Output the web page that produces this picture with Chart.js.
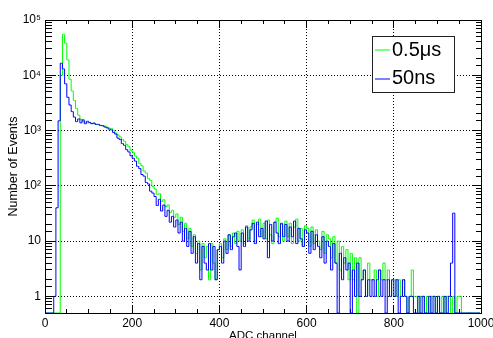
<!DOCTYPE html>
<html>
<head>
<meta charset="utf-8">
<script src="https://cdn.jsdelivr.net/npm/chart.js@4/dist/chart.umd.min.js"></script>
<style>
  html, body { margin: 0; padding: 0; background: #fff; overflow: hidden; }
</style>
</head>
<body>
<canvas id="c" width="493" height="338"></canvas>
<script>
// ---- data: counts per 5-channel bin, starting at ADC 0 ----
const binWidth = 5;
const seriesNames = ['0.5\u03bcs', '50ns'];

const green = [
  0, 0, 0, 0, 0, 0, 0, 10000, 55000, 38000,
  19000, 8500, 5200, 3500, 2500, 1900, 1600, 1480, 1420, 1380,
  1370, 1350, 1330, 1300, 1290, 1250, 1230, 1200, 1150, 1110,
  1080, 990, 900, 830, 770, 690, 640, 560, 510, 440,
  405, 345, 315, 255, 230, 185, 170, 135, 125, 98,
  88, 70, 72, 52, 56, 42, 45, 33, 36, 27,
  31, 20, 27, 15, 21, 11, 17, 8, 13, 6,
  10, 3, 9, 5, 8, 2, 9, 4, 2, 7,
  9, 5, 11, 7, 13, 8, 14, 9, 15, 10,
  16, 9, 19, 11, 18, 24, 10, 20, 25, 12,
  21, 11, 24, 13, 9, 22, 26, 12, 20, 10,
  23, 12, 21, 9, 18, 25, 10, 17, 8, 19,
  17, 8, 18, 9, 16, 10, 7, 15, 6, 13,
  11, 5, 12, 4, 10, 3, 8, 4, 7, 2,
  6, 2, 5, 0, 5, 2, 3, 1, 4, 2,
  2, 3, 1, 3, 2, 4, 2, 3, 1, 2,
  2, 1, 2, 1, 2, 1, 0, 1, 3, 1,
  1, 0, 1, 1, 0, 1, 0, 1, 1, 0,
  1, 0, 1, 0, 1, 1, 0, 1, 0, 1,
  1, 0, 0, 0, 0, 0, 0, 0, 0, 0
];

const blue = [
  0, 0, 0, 0, 1, 40, 1500, 16500, 13000, 7000,
  4000, 2900, 2200, 1750, 1450, 1620, 1380, 1560, 1330, 1470,
  1400, 1330, 1370, 1290, 1290, 1230, 1220, 1160, 1120, 1060,
  1030, 920, 860, 730, 690, 580, 540, 450, 410, 350,
  315, 280, 225, 205, 160, 150, 115, 108, 80, 74,
  64, 44, 57, 35, 45, 28, 36, 22, 28, 18,
  24, 14, 22, 10, 17, 8, 15, 6, 12, 4,
  9, 2, 8, 4, 3, 9, 3, 8, 2, 7,
  8, 4, 10, 6, 13, 7, 12, 14, 8, 3,
  14, 8, 18, 10, 16, 21, 9, 22, 12, 17,
  11, 23, 5, 20, 10, 22, 14, 9, 21, 12,
  20, 10, 18, 12, 23, 9, 17, 11, 8, 16,
  14, 6, 15, 7, 13, 8, 5, 12, 4, 10,
  8, 3, 9, 4, 0, 6, 2, 5, 3, 4,
  0, 3, 1, 4, 1, 2, 3, 1, 2, 1,
  2, 1, 2, 3, 1, 2, 0, 2, 1, 2,
  1, 2, 0, 1, 2, 1, 0, 1, 1, 0,
  0, 1, 0, 1, 0, 0, 1, 0, 1, 0,
  1, 0, 0, 1, 0, 1, 4, 32, 0, 0,
  0, 0, 0, 0, 0, 0, 0, 0, 0, 0
];

const xMin = 0, xMax = 1000;
const xMajorStep = 200, xMinorStep = 50;
const yMin = 0.5, yMax = 100000;
const yTickValues = [1, 10, 100, 1000, 10000, 100000];
const yTickText = ['1', '10', '10\u00b2', '10\u00b3', '10\u2074', '10\u2075'];

// ---- helpers ----
const FONT = "'Liberation Sans', Arial, sans-serif";
const ink = '#000';
const clear = 'rgba(0,0,0,0)';

// empty bins sit on the lower frame edge, as in the original histogram
const toPoints = counts => counts.map((v, i) => ({x: i * binWidth + binWidth / 2, y: v > 0 ? v : yMin}));
const isDecade = v => Math.abs(Math.log10(v) - Math.round(Math.log10(v))) < 1e-9;
const keepDecades = s => { s.ticks = s.ticks.filter(t => isDecade(t.value)); };
const fixSize = (w, h) => s => {
  if (w !== null) s.width = w;
  if (h !== null) s.height = h;
  s.paddingLeft = s.paddingRight = s.paddingTop = s.paddingBottom = 0;
};

function yLabel(v) {
  const i = yTickValues.findIndex(t => Math.abs(Math.log10(t) - Math.log10(v)) < 1e-6);
  return i < 0 ? '' : yTickText[i];
}

// tick-only frame axis (ticks point into the plot)
function frameAxis(type, position, len, step, decadesOnly, weight) {
  const a = {
    type, position, weight,
    min: type === 'linear' ? xMin : yMin,
    max: type === 'linear' ? xMax : yMax,
    ticks: {display: false, autoSkip: false},
    grid: {drawOnChartArea: false, tickLength: -len, tickColor: ink, tickWidth: 1},
    border: {display: false},
    afterFit: (position === 'left' || position === 'right') ? fixSize(0, null) : fixSize(null, 0)
  };
  if (step) a.ticks.stepSize = step;
  if (decadesOnly) a.afterBuildTicks = keepDecades;
  return a;
}

// ---- legend box drawn inside the frame ----
const legendBox = {
  id: 'legendBox',
  afterDraw(chart) {
    const ctx = chart.ctx;
    const bx = 372.5, by = 36.5, bw = 82, bh = 56;
    ctx.save();
    ctx.fillStyle = '#fff';
    ctx.fillRect(bx, by, bw, bh);
    ctx.strokeStyle = '#222';
    ctx.lineWidth = 1;
    ctx.strokeRect(bx, by, bw, bh);
    ctx.font = '20px ' + FONT;
    ctx.textBaseline = 'middle';
    ctx.textAlign = 'left';
    const rows = [50, 78.5];
    chart.data.datasets.forEach((ds, i) => {
      ctx.strokeStyle = ds.borderColor;
      ctx.beginPath();
      ctx.moveTo(375, Math.round(rows[i]));
      ctx.lineTo(390, Math.round(rows[i]));
      ctx.stroke();
      ctx.fillStyle = '#000';
      ctx.fillText(ds.label, 392, rows[i]);
    });
    ctx.restore();
  }
};

new Chart(document.getElementById('c'), {
  type: 'line',
  data: {
    datasets: [
      {label: seriesNames[0], data: toPoints(green), borderColor: '#00ff00', order: 1},
      {label: seriesNames[1], data: toPoints(blue), borderColor: '#0000ff', order: 0}
    ].map(d => Object.assign(d, {
      borderWidth: 1, pointRadius: 0, stepped: 'middle', fill: false, tension: 0,
      xAxisID: 'x', yAxisID: 'y'
    }))
  },
  options: {
    responsive: false,
    devicePixelRatio: 1,
    animation: false,
    layout: {padding: {left: 0, top: 20, right: 12, bottom: 0}},
    plugins: {legend: {display: false}, tooltip: {enabled: false}},
    scales: {
      x: {
        type: 'linear', position: 'bottom', min: xMin, max: xMax, weight: 1,
        ticks: {stepSize: xMajorStep, autoSkip: false, maxRotation: 0, padding: 11, color: ink,
                font: {family: FONT, size: 12}, callback: v => String(v)},
        grid: {color: c => (c.tick && c.tick.value > xMin && c.tick.value < xMax) ? ink : clear,
               tickLength: -8, tickColor: ink, tickWidth: 1, lineWidth: 1},
        border: {color: ink, width: 1, dash: [1, 2]},
        title: {display: true, text: 'ADC channel', color: ink, font: {family: FONT, size: 11.5},
                padding: {top: 0, bottom: -5}},
        afterFit: fixSize(null, 25)
      },
      xMinor: frameAxis('linear', 'bottom', 4, xMinorStep, false, 0),
      xTop: Object.assign(frameAxis('linear', 'top', 8, xMajorStep, false, 1), {border: {color: ink, width: 1}}),
      xTopMinor: frameAxis('linear', 'top', 4, xMinorStep, false, 0),
      y: {
        type: 'logarithmic', position: 'left', min: yMin, max: yMax, weight: 1,
        afterBuildTicks: keepDecades,
        ticks: {autoSkip: false, padding: 14, color: ink, font: {family: FONT, size: 12}, callback: yLabel},
        grid: {color: c => (c.tick && c.tick.value < yMax) ? ink : clear,
               tickLength: -10, tickColor: ink, tickWidth: 1, lineWidth: 1},
        border: {color: ink, width: 1, dash: [1, 2]},
        title: {display: true, text: 'Number of Events', color: ink, font: {family: FONT, size: 12.5},
                padding: {top: 6.5, bottom: 0}},
        afterFit: fixSize(45, null)
      },
      yMinor: frameAxis('logarithmic', 'left', 7, null, false, 0),
      yRight: Object.assign(frameAxis('logarithmic', 'right', 9, null, true, 1), {border: {color: ink, width: 1}}),
      yRightMinor: frameAxis('logarithmic', 'right', 5, null, false, 0)
    }
  },
  plugins: [legendBox]
});
</script>
</body>
</html>
